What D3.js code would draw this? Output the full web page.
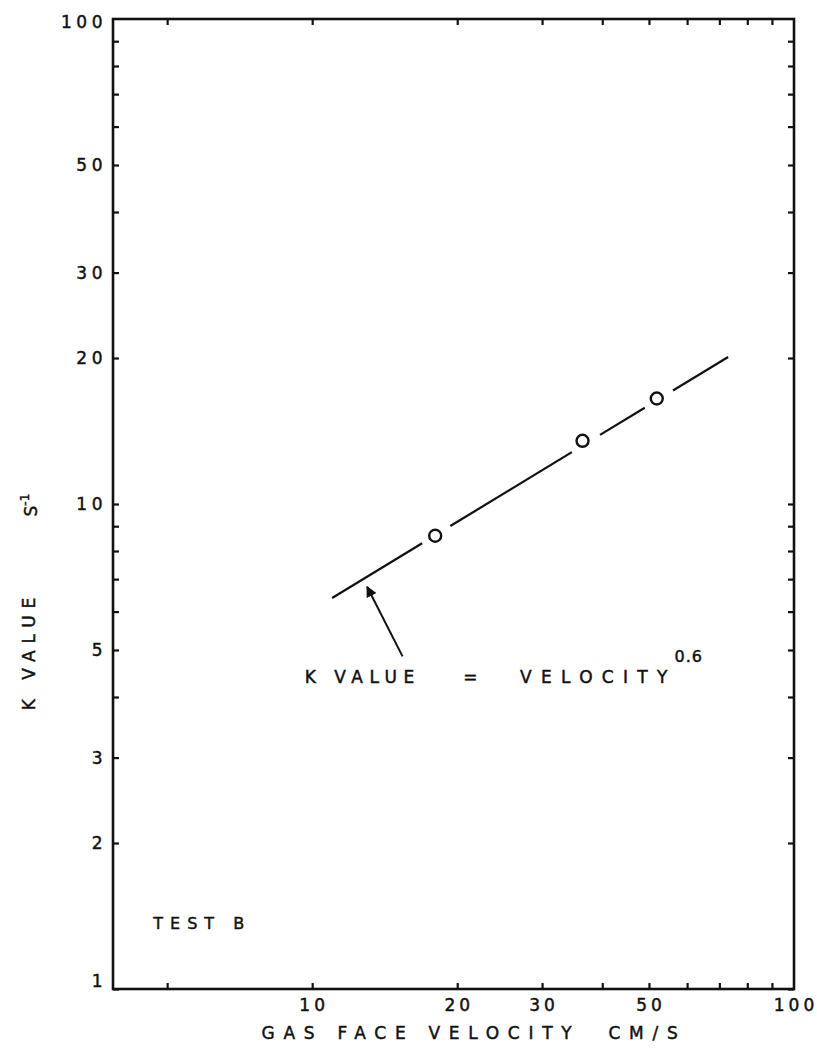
<!DOCTYPE html>
<html>
<head>
<meta charset="utf-8">
<script src="https://cdn.jsdelivr.net/npm/d3@7"></script>
<style>
  html, body { margin: 0; padding: 0; background: #fff; }
  svg text { font-family: "DejaVu Sans", sans-serif; fill: #111; stroke: #111; stroke-width: 0.45px; white-space: pre; }
</style>
</head>
<body>
<svg id="chart" width="817" height="1049"></svg>
<script>
// Measured K values against gas face velocity (Test B)
const velocity = [18.0, 36.4, 51.9];          // cm/s
const kValue   = [8.6, 13.5, 16.5];           // s^-1

// Fitted power law K ∝ V^0.6, drawn between these end points
const fitVelocity = [11, 73];
const fitK        = [6.4, 20.1];

// Axis ticks
const xTicks      = [5, 10, 20, 30, 40, 50, 60, 70, 80, 90];
const xTickLabels = [10, 20, 30, 50, 100];
const yTicks      = [1, 2, 3, 4, 5, 6, 7, 8, 9, 10, 20, 30, 40, 50, 60, 70, 80, 90];
const yTickLabels = [1, 2, 3, 5, 10, 20, 30, 50, 100];

const svg = d3.select("#chart");
const margin = { left: 113, right: 23, top: 19, bottom: 60 };
const W = 817, H = 1049;
const iw = W - margin.left - margin.right;
const ih = H - margin.top - margin.bottom;

const x = d3.scaleLog().domain([3.86, 100]).range([0, iw]);
const y = d3.scaleLog().domain([1, 100]).range([ih, 0]);

const g = svg.append("g").attr("transform", `translate(${margin.left},${margin.top})`);

const tickLen = 6;
function styleAxis(sel) {
  sel.select(".domain").remove();
  sel.selectAll(".tick line").attr("stroke", "#111").attr("stroke-width", 2.2);
}

// Bottom axis: inward ticks, labelled decades
g.append("g")
  .attr("transform", `translate(0,${ih})`)
  .call(d3.axisBottom(x).tickValues(xTicks).tickSize(-tickLen).tickSizeOuter(0).tickFormat(() => ""))
  .call(styleAxis);
g.selectAll(".xlab").data(xTickLabels).enter().append("text")
  .attr("class", "xlab")
  .attr("x", d => x(d) + 2)
  .attr("y", ih + 22)
  .attr("text-anchor", "middle")
  .attr("font-size", 17)
  .attr("letter-spacing", 4)
  .text(d => d);

// Top axis
g.append("g")
  .call(d3.axisTop(x).tickValues(xTicks).tickSize(-tickLen).tickSizeOuter(0).tickFormat(() => ""))
  .call(styleAxis);

// Left axis
g.append("g")
  .call(d3.axisLeft(y).tickValues(yTicks).tickSize(-tickLen).tickSizeOuter(0).tickFormat(() => ""))
  .call(styleAxis);
g.selectAll(".ylab").data(yTickLabels).enter().append("text")
  .attr("class", "ylab")
  .attr("x", -6)
  .attr("y", d => y(d) + (d === 1 ? -8 : (d === 100 ? 3 : 0)))
  .attr("dy", "0.36em")
  .attr("text-anchor", "end")
  .attr("font-size", 17)
  .attr("letter-spacing", 4.5)
  .text(d => d);

// Right axis
g.append("g")
  .attr("transform", `translate(${iw},0)`)
  .call(d3.axisRight(y).tickValues(yTicks).tickSize(-tickLen).tickSizeOuter(0).tickFormat(() => ""))
  .call(styleAxis);

// Frame
g.append("rect")
  .attr("x", 0).attr("y", 0).attr("width", iw).attr("height", ih)
  .attr("fill", "none").attr("stroke", "#111").attr("stroke-width", 2.6);

// Fit line, broken around each measured point
const p0 = [x(fitVelocity[0]), y(fitK[0])];
const p1 = [x(fitVelocity[1]), y(fitK[1])];
const len = Math.hypot(p1[0] - p0[0], p1[1] - p0[1]);
const ux = (p1[0] - p0[0]) / len, uy = (p1[1] - p0[1]) / len;
const pts = velocity.map((v, i) => [x(v), y(kValue[i])]);
const along = pts.map(p => (p[0] - p0[0]) * ux + (p[1] - p0[1]) * uy);
const gapBefore = 15, gapAfter = 18;
const segs = [];
let start = 0;
along.forEach(t => { segs.push([start, t - gapBefore]); start = t + gapAfter; });
segs.push([start, len]);
g.selectAll(".fit").data(segs).enter().append("line")
  .attr("class", "fit")
  .attr("x1", d => p0[0] + ux * d[0]).attr("y1", d => p0[1] + uy * d[0])
  .attr("x2", d => p0[0] + ux * d[1]).attr("y2", d => p0[1] + uy * d[1])
  .attr("stroke", "#111").attr("stroke-width", 2.2);

// Measured points
g.selectAll(".pt").data(velocity).enter().append("circle")
  .attr("class", "pt")
  .attr("cx", (d) => x(d))
  .attr("cy", (d, i) => y(kValue[i]))
  .attr("r", 6)
  .attr("fill", "#fff").attr("stroke", "#111").attr("stroke-width", 2.4);

// Annotation arrow pointing at the fit line
svg.append("defs").append("marker")
  .attr("id", "arrow").attr("viewBox", "0 0 10 10")
  .attr("refX", 9).attr("refY", 5)
  .attr("markerWidth", 5.5).attr("markerHeight", 5.5)
  .attr("orient", "auto")
  .append("path").attr("d", "M0,0 L10,5 L0,10 Z").attr("fill", "#111");
g.append("line")
  .attr("x1", x(15.4)).attr("y1", y(4.85))
  .attr("x2", x(13.0)).attr("y2", y(6.75))
  .attr("stroke", "#111").attr("stroke-width", 2)
  .attr("marker-end", "url(#arrow)");

// Annotation text: K VALUE = VELOCITY^0.6
const annY = y(4.28);
g.append("text")
  .attr("x", x(9.65)).attr("y", annY)
  .attr("font-size", 17).attr("letter-spacing", 6.5)
  .text("K VALUE");
g.append("text")
  .attr("x", x(21.3)).attr("y", annY)
  .attr("text-anchor", "middle")
  .attr("font-size", 17)
  .text("=");
g.append("text")
  .attr("x", x(27)).attr("y", annY)
  .attr("font-size", 17).attr("letter-spacing", 9.3)
  .text("VELOCITY");
g.append("text")
  .attr("x", x(56.5)).attr("y", annY - 21)
  .attr("font-size", 16).attr("letter-spacing", 1)
  .text("0.6");

g.append("text")
  .attr("x", x(4.68)).attr("y", y(1.33))
  .attr("font-size", 16)
  .attr("letter-spacing", 7)
  .text("TEST B");

// Axis titles
svg.append("text")
  .attr("x", 474).attr("y", 1039)
  .attr("text-anchor", "middle")
  .attr("font-size", 17)
  .attr("letter-spacing", 8.7)
  .text("GAS FACE VELOCITY  CM/S");

svg.append("text")
  .attr("transform", `translate(35,${margin.top + y(4.99)}) rotate(-90)`)
  .attr("text-anchor", "middle")
  .attr("font-size", 17)
  .attr("letter-spacing", 7)
  .text("K VALUE");
const ytS = svg.append("text")
  .attr("transform", `translate(37,${margin.top + y(9.95)}) rotate(-90)`)
  .attr("text-anchor", "middle")
  .attr("font-size", 17);
ytS.append("tspan").text("S");
ytS.append("tspan").attr("dy", -8).attr("font-size", 12).text("-1");
</script>
</body>
</html>
